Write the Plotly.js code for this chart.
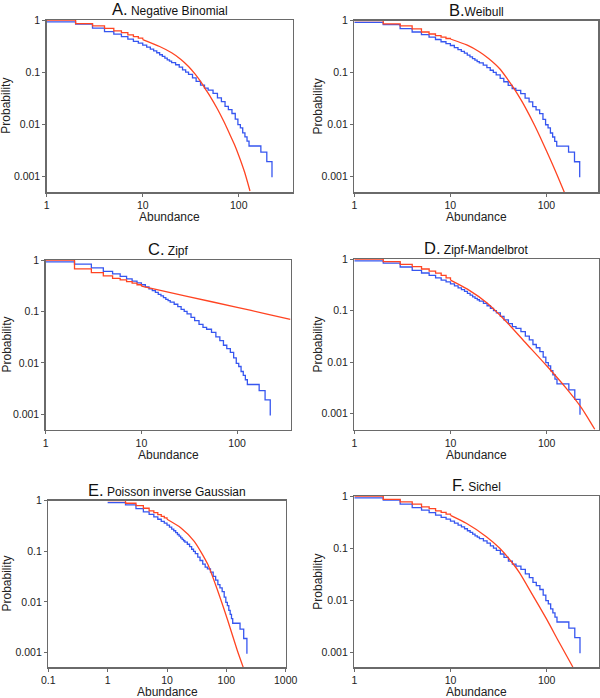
<!DOCTYPE html>
<html><head><meta charset="utf-8">
<script src="https://cdn.plot.ly/plotly-3.0.1.min.js"></script>
<style>html,body{margin:0;padding:0;background:#fff}#chart{width:600px;height:698px}</style>
</head><body><div id="chart"></div>
<script>
// ---- Observed (empirical) survival: abundance vs probability ----
const abundance = [1,2,3,4,5,6,7,8,9,10,11,12,13,14,15,16,17,18,19,20,22,24,26,28,30,33,36,40,44,48,54,60,66,72,78,85,92,98,104,110,116,122,128,170,196,222];
const observed  = [0.92,0.83,0.70,0.60,0.535,0.48,0.43,0.39,0.36,0.33,0.30,0.275,0.255,0.235,0.215,0.2,0.185,0.172,0.162,0.152,0.138,0.124,0.11,0.1,0.09,0.077,0.066,0.056,0.049,0.045,0.039,0.032,0.027,0.022,0.019,0.016,0.0125,0.0098,0.0085,0.0068,0.0057,0.0047,0.0038,0.0029,0.0019,0.00095];

// ---- Fitted models: discrete steps for abundance 1..10 ----
const stepAbundance = [1,2,3,4,5,6,7,8,9,10];
const negbinStep  = [1,0.85,0.77,0.69,0.62,0.57,0.52,0.48,0.45,0.42];
const weibullStep = [1,0.86,0.79,0.69,0.60,0.55,0.51,0.48,0.45,0.44];
const zipfStep    = [1,0.67,0.57,0.49,0.44,0.41,0.38,0.355,0.33,0.31];
const zmStep      = [1,0.89,0.79,0.71,0.64,0.58,0.53,0.48,0.43,0.39];
const pigStep     = [1,0.89,0.80,0.71,0.63,0.58,0.53,0.49,0.46,0.43];
const sichelStep  = [1,0.86,0.77,0.70,0.62,0.57,0.52,0.485,0.45,0.425];

// ---- Fitted models: continuous part (abundance >= 10) ----
const negbinX  = [10,15,20,25,30,35,40,45,50,60,70,80,90,100,115,131];
const negbinY  = [0.42,0.31,0.235,0.175,0.128,0.092,0.066,0.047,0.035,0.0195,0.0112,0.0066,0.0041,0.0025,0.0012,0.00052];
const weibullX = [10,15,20,25,33,40,45,55,62,75,86,100,118,140,159];
const weibullY = [0.44,0.335,0.25,0.185,0.115,0.071,0.052,0.0285,0.0192,0.0097,0.0057,0.0031,0.00156,0.00074,0.00042];
const zipfX    = [10,30,100,200,360];
const zipfY    = [0.31,0.197,0.12,0.09,0.07];
const zmX      = [10,15,24,39,60,100,160,230,316];
const zmY      = [0.39,0.26,0.14,0.058,0.024,0.0085,0.0031,0.0013,0.0005];
const pigX     = [10,17.2,28.8,48.4,71,105,153,194];
const pigY     = [0.43,0.29,0.158,0.056,0.017,0.0044,0.0011,0.0005];
const sichelX  = [10,14.6,23.6,32.5,44.7,52.5,71.5,98.5,136,187];
const sichelY  = [0.425,0.30,0.1655,0.0993,0.050,0.033,0.0125,0.0045,0.0015,0.00052];

const probTicks = [1,0.1,0.01,0.001];
const probTickText = ['1','0.1','0.01','0.001'];
const abundTicks = [1,10,100];
const abundTicksWide = [0.1,1,10,100,1000];

// ---- panel layout (pixel boxes: left, right, top, bottom) ----
const W = 600, H = 698;
const panels = [
  {key:'A.', label:' Negative Binomial', step:negbinStep, cx:negbinX, cy:negbinY, box:[46.7,292.7,20,192.3], xr:[0,2.562], yr:[-3.31,0], xt:abundTicks},
  {key:'B.', label:'Weibull', step:weibullStep, cx:weibullX, cy:weibullY, box:[354.3,598.3,20.5,192.3], xr:[0,2.54], yr:[-3.31,0], xt:abundTicks},
  {key:'C.', label:' Zipf', step:zipfStep, cx:zipfX, cy:zipfY, box:[45.7,290.7,260,430], xr:[0,2.56], yr:[-3.305,0], xt:abundTicks},
  {key:'D.', label:' Zipf-Mandelbrot', step:zmStep, cx:zmX, cy:zmY, box:[354.3,599,259,430], xr:[0,2.544], yr:[-3.316,0], xt:abundTicks},
  {key:'E.', label:' Poisson inverse Gaussian', step:pigStep, cx:pigX, cy:pigY, box:[48.3,285.7,500.7,667.3], xr:[-1,3], yr:[-3.29,0], xt:abundTicksWide},
  {key:'F.', label:' Sichel', step:sichelStep, cx:sichelX, cy:sichelY, box:[354.3,599,496,667.3], xr:[0,2.544], yr:[-3.29,0], xt:abundTicks}
];

const BLUE = '#3656f0', RED = '#ff4422', FRAME = '#6a6a6a';
const FONT = 'Liberation Sans, Arial, Helvetica, sans-serif';
const traces = [];
const layout = {
  width: W, height: H, margin:{l:0,r:0,t:0,b:0},
  paper_bgcolor:'#fff', plot_bgcolor:'#fff', showlegend:false,
  font:{family:FONT, color:'#222'}, annotations:[]
};

panels.forEach((p, i) => {
  const n = i + 1;
  const xa = 'x' + (n === 1 ? '' : n), ya = 'y' + (n === 1 ? '' : n);
  const [l, r, t, b] = p.box;
  traces.push({x:abundance, y:observed, xaxis:xa, yaxis:ya, type:'scatter', mode:'lines',
    line:{color:BLUE, width:1.3, shape:'hv'}, name:'Observed', hoverinfo:'x+y'});
  traces.push({x:stepAbundance, y:p.step, xaxis:xa, yaxis:ya, type:'scatter', mode:'lines',
    line:{color:RED, width:1.3, shape:'hv'}, name:p.label.trim(), hoverinfo:'x+y'});
  traces.push({x:p.cx, y:p.cy, xaxis:xa, yaxis:ya, type:'scatter', mode:'lines',
    line:{color:RED, width:1.3, shape:'spline', smoothing:0.6}, name:p.label.trim(), hoverinfo:'x+y'});

  const common = {type:'log', showline:true, mirror:true, linecolor:FRAME, linewidth:1.4,
    ticks:'outside', ticklen:3, tickcolor:FRAME, tickwidth:1, showgrid:false, zeroline:false,
    tickfont:{size:10.5, color:'#222', family:FONT}, tickmode:'array', fixedrange:true};
  layout['xaxis' + (n === 1 ? '' : n)] = Object.assign({}, common, {
    domain:[l / W, r / W], range:p.xr, anchor:ya,
    tickvals:p.xt, ticktext:p.xt.map(String)});
  layout['yaxis' + (n === 1 ? '' : n)] = Object.assign({}, common, {
    domain:[1 - b / H, 1 - t / H], range:p.yr, anchor:xa,
    tickvals:probTicks, ticktext:probTickText});

  const cx = (l + r) / 2 / W;
  // panel title
  layout.annotations.push({xref:'paper', yref:'paper', x:cx, y:1 - (t - 11) / H,
    xanchor:'center', yanchor:'middle', showarrow:false,
    text:'<span style="font-size:16.5px">' + p.key + '</span>' + p.label,
    font:{size:12, family:FONT, color:'#111'}});
  // x axis title
  layout.annotations.push({xref:'paper', yref:'paper', x:cx, y:1 - (b + 24.5) / H,
    xanchor:'center', yanchor:'middle', showarrow:false, text:'Abundance',
    font:{size:12, family:FONT, color:'#222'}});
  // y axis title
  const yx = (n % 2 === 1) ? 6.5 : 318;
  layout.annotations.push({xref:'paper', yref:'paper', x:yx / W, y:1 - (t + b) / 2 / H,
    xanchor:'center', yanchor:'middle', showarrow:false, text:'Probability', textangle:-90,
    font:{size:12, family:FONT, color:'#222'}});
});

Plotly.newPlot('chart', traces, layout, {displayModeBar:false, staticPlot:true});
</script>
</body></html>
